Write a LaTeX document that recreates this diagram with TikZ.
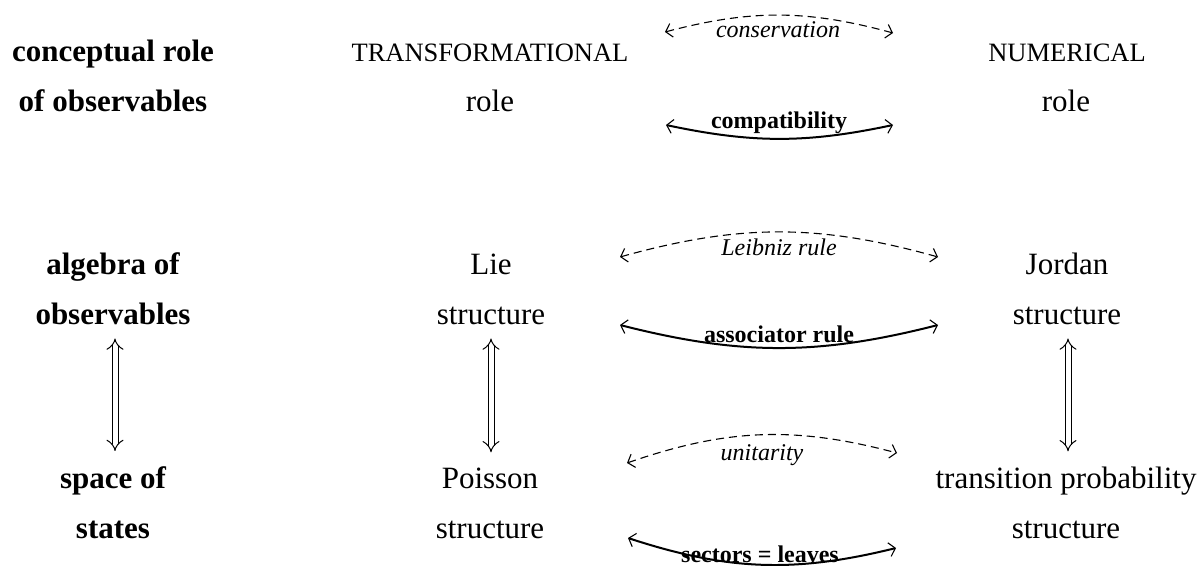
\documentclass[tikz,border=0pt]{standalone}
\usepackage{fontspec}
\setmainfont{Liberation Serif}
\usetikzlibrary{arrows.meta}
\tikzset{
  txt/.style={anchor=base, inner sep=0pt, font=\fontsize{31}{37}\selectfont},
  head/.style={txt, font=\fontsize{31}{37}\selectfont\bfseries},
  caps/.style={anchor=base, inner sep=0pt, font=\fontsize{26.5}{32}\selectfont},
  ilab/.style={anchor=base, inner sep=0pt, font=\fontsize{24}{28}\selectfont\itshape},
  blab/.style={anchor=base, inner sep=0pt, font=\fontsize{24}{28}\selectfont\bfseries},
  dsh/.style={line width=1.1pt, dash pattern=on 8pt off 5pt,
    {Straight Barb[length=6pt,width=14pt,line width=1.1pt]}-{Straight Barb[length=6pt,width=14pt,line width=1.1pt]}},
  sol/.style={line width=2pt,
    {Straight Barb[length=6pt,width=14pt,line width=1.1pt]}-{Straight Barb[length=6pt,width=14pt,line width=1.1pt]}},
  dbl/.style={double, double distance=5pt, line width=1pt,
    {Implies[scale=1.8]}-{Implies[scale=1.8]}}
}
\begin{document}
\begin{tikzpicture}[x=1pt,y=1pt]
\useasboundingbox (0,0) rectangle (1204,565);
% left column
\node[head] (cr1) at (113,503) {conceptual role};
\node[head] (cr2) at (113,453) {of observables};
\node[head] (ao1) at (113,290) {algebra of};
\node[head] (ao2) at (113,240) {observables};
\node[head] (ss1) at (113,77) {space of};
\node[head] (ss2) at (113,27) {states};
% middle column
\node[caps] (tr1) at (490,503) {TRANSFORMATIONAL};
\node[txt] (tr2) at (490,453) {role};
\node[txt] (li1) at (491,290) {Lie};
\node[txt] (li2) at (491,240) {structure};
\node[txt] (po1) at (490,77) {Poisson};
\node[txt] (po2) at (490,27) {structure};
% right column
\node[caps] (nu1) at (1067,503) {NUMERICAL};
\node[txt] (nu2) at (1066,453) {role};
\node[txt] (jo1) at (1067,290) {Jordan};
\node[txt] (jo2) at (1067,240) {structure};
\node[txt] (tp1) at (1066,77) {transition probability};
\node[txt] (tp2) at (1066,27) {structure};
% vertical double arrows
\draw[dbl] ([xshift=2pt,yshift=-13pt]ao2.south) -- ([xshift=2pt,yshift=15pt]ss1.north);
\draw[dbl] ([yshift=-13pt]li2.south) -- ([xshift=1pt,yshift=15pt]po1.north);
\draw[dbl] ([xshift=1pt,yshift=-13pt]jo2.south) -- ([xshift=2pt,yshift=15pt]tp1.north);
% curved arrows: ends
\coordinate (c1l) at (665,533); \coordinate (c1r) at (893,532);
\coordinate (c2l) at (666,440); \coordinate (c2r) at (893,440);
\coordinate (c3l) at (620,308); \coordinate (c3r) at (938,308);
\coordinate (c4l) at (620,240); \coordinate (c4r) at (938,240);
\coordinate (c5l) at (627,102); \coordinate (c5r) at (897,112);
\coordinate (c6l) at (628,27);  \coordinate (c6r) at (896,17);
\draw[dsh] (c1l) to[bend left=15] (c1r);
\draw[sol] (c2l) to[bend right=12] (c2r);
\draw[dsh] (c3l) to[bend left=15.6] (c3r);
\draw[sol] (c4l) to[bend right=14.3] (c4r);
\draw[dsh] (c5l) to[bend left=17] (c5r);
\draw[sol] (c6l) to[bend right=16] (c6r);
% labels
\node[ilab] (l1) at (778,527) {conservation};
\node[blab] (l2) at (779,436) {compatibility};
\node[ilab] (l3) at (779,309) {Leibniz rule};
\node[blab] (l4) at (779,222) {associator rule};
\node[ilab] (l5) at (762,105) {unitarity};
\node[blab] (l6) at (760,3) {sectors = leaves};
\end{tikzpicture}
\end{document}
